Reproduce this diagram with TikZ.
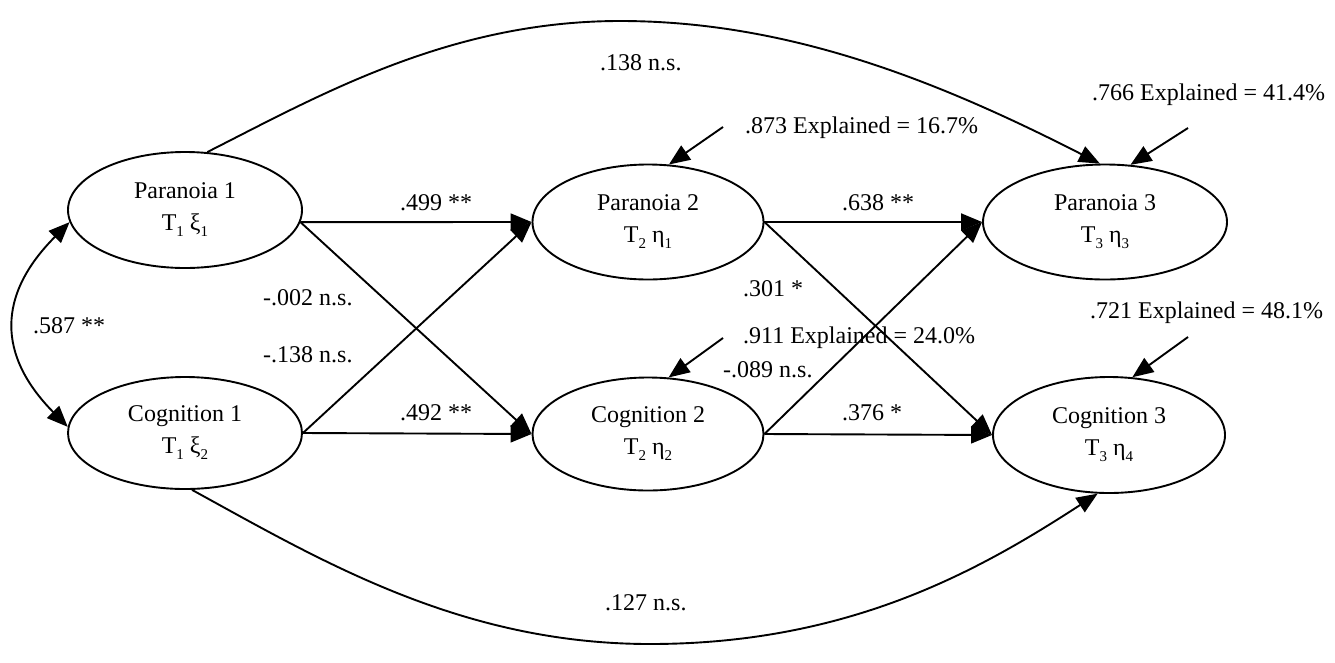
\documentclass[tikz,border=0pt]{standalone}
\usepackage{fontspec}
\setmainfont{Liberation Serif}
\usetikzlibrary{arrows.meta,shapes.geometric}
\newcommand{\lowsub}[1]{\raisebox{-0.25em}{\fontsize{15}{15}\selectfont #1}}
\begin{document}
\begin{tikzpicture}[x=1pt,y=-1pt,
  lat/.style={ellipse,draw,line width=1.9pt,inner sep=0pt,align=center,font=\fontsize{24}{32}\selectfont},
  conn/.style={line width=1.9pt,-{Triangle[length=21pt,width=17pt]}},
  lbl/.style={font=\fontsize{24}{28}\selectfont,inner sep=0pt,anchor=base west}]
\fill[white] (0,0) rectangle (1335,662);
\useasboundingbox (0,0) rectangle (1335,662);
% latent variables
\node[lat,minimum width=234pt,minimum height=116pt] (p1) at (185,210) {Paranoia 1\\T\lowsub{1} ξ\lowsub{1}};
\node[lat,minimum width=234pt,minimum height=112pt] (c1) at (185,433) {Cognition 1\\T\lowsub{1} ξ\lowsub{2}};
\node[lat,minimum width=231pt,minimum height=115pt] (p2) at (648,222) {Paranoia 2\\T\lowsub{2} η\lowsub{1}};
\node[lat,minimum width=231pt,minimum height=113pt] (c2) at (648,434) {Cognition 2\\T\lowsub{2} η\lowsub{2}};
\node[lat,minimum width=244pt,minimum height=115pt] (p3) at (1105,222) {Paranoia 3\\T\lowsub{3} η\lowsub{3}};
\node[lat,minimum width=232pt,minimum height=116pt] (c3) at (1109,435) {Cognition 3\\T\lowsub{3} η\lowsub{4}};
% paths
\draw[conn] (p1.-6) -- (p2.west);
\draw[conn] (p1.-6) -- (c2.west);
\draw[conn] (c1.east) -- (p2.west);
\draw[conn] (c1.east) -- (c2.west);
\draw[conn] (p2.east) -- (p3.west);
\draw[conn] (p2.east) -- (c3.west);
\draw[conn] (c2.east) -- (p3.west);
\draw[conn] (c2.east) -- (c3.west);
\coordinate (topmid) at (620,21);
\coordinate (botmid) at (650,644);
\draw[conn] (p1.69) .. controls (320,95) and (450,21) .. (topmid) .. controls (790,21) and (940,82) .. (p3.95);
\draw[conn] (c1.-83) .. controls (320,560) and (460,644) .. (botmid) .. controls (850,644) and (980,570) .. (c3.259);
\draw[line width=1.9pt,{Triangle[length=21pt,width=17pt]}-{Triangle[length=21pt,width=17pt]}] (p1.186) .. controls (-3,295) and (-3,355) .. (c1.177);
% residuals
\coordinate (r1) at (723,127);
\coordinate (r2) at (723,338);
\coordinate (r3) at (1188,128);
\coordinate (r4) at (1188,337);
\draw[conn] (r1) -- (p2.70);
\draw[conn] (r2) -- (c2.70);
\draw[conn] (r3) -- (p3.66);
\draw[conn] (r4) -- (c3.68);
% labels
\node[lbl] (l138) at (600,70) {.138 n.s.};
\node[lbl] (l873) at (745,133) {.873 Explained = 16.7\%};
\node[lbl] (l766) at (1092,100) {.766 Explained = 41.4\%};
\node[lbl] (l499) at (400,210) {.499 **};
\node[lbl] (l638) at (842,210) {.638 **};
\node[lbl] (l002) at (263,305) {-.002 n.s.};
\node[lbl] (l301) at (743,296) {.301 *};
\node[lbl] (l587) at (33,333) {.587 **};
\node[lbl] (lm138) at (263,362) {-.138 n.s.};
\node[lbl] (l911) at (743,343) {.911 Explained = 24.0\%};
\node[lbl] (l721) at (1090,318) {.721 Explained = 48.1\%};
\node[lbl] (l089) at (723,377) {-.089 n.s.};
\node[lbl] (l492) at (400,420) {.492 **};
\node[lbl] (l376) at (842,420) {.376 *};
\node[lbl] (l127) at (605,610) {.127 n.s.};
\end{tikzpicture}
\end{document}
